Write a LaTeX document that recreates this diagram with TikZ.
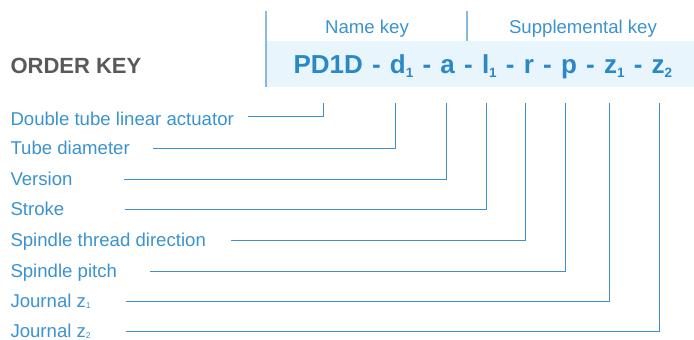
\documentclass[tikz,border=0pt]{standalone}
\usepackage{fontspec}
\setmainfont{Liberation Sans}
\usepackage{tikz}
\definecolor{keyblue}{HTML}{2B88C8}
\definecolor{labblue}{HTML}{3A93CF}
\definecolor{lineblue}{HTML}{3F90C9}
\definecolor{bandblue}{HTML}{E9F5FC}
\definecolor{rulblue}{HTML}{86BBE0}
\definecolor{keygray}{HTML}{58595B}
\tikzstyle{lab}=[anchor=base west,inner sep=0pt,text=labblue,font=\fontsize{18.6}{20}\selectfont]
\tikzstyle{head}=[anchor=base,inner sep=0pt,text=labblue,font=\fontsize{18.6}{20}\selectfont]
\tikzstyle{conn}=[lineblue,line width=1pt]
\newcommand{\csub}[1]{\raisebox{-4pt}{\fontsize{13.5}{13.5}\selectfont #1}}
\newcommand{\lsub}[1]{\raisebox{-1.5pt}{\fontsize{8.5}{8.5}\selectfont #1}}
\newcommand{\csep}{\hspace{2pt} - \hspace{2pt}}

\begin{document}
\begin{tikzpicture}[x=1pt,y=-1pt,conn]
\useasboundingbox (0,0) rectangle (694,340);
\fill[bandblue] (266,41) rectangle (694,87);
\draw[rulblue,line width=1.3pt] (266,11) -- (266,87);
\draw[rulblue,line width=1.1pt] (467,11) -- (467,41);
\node[head] (nk) at (367,33) {Name key};
\node[head] (sk) at (583,33) {Supplemental key};
\node[anchor=base west,inner sep=0pt,text=keygray,font=\fontsize{22}{24}\selectfont\bfseries] (ok) at (10,73.5) {ORDER KEY};
\node[anchor=base west,inner sep=0pt,text=keyblue,font=\fontsize{26}{28}\selectfont\bfseries] (code) at (293,73) {PD1D\csep d\csub{1}\csep a\csep l\csub{1}\csep r\csep p\csep z\csub{1}\csep z\csub{2}};
% tick ends under the code
\coordinate (tPD) at (323,103);\coordinate (tD) at (395,103);\coordinate (tA) at (446,103);\coordinate (tL) at (486,103);
\coordinate (tR) at (525,103);\coordinate (tP) at (565,103);\coordinate (tZa) at (609,103);\coordinate (tZb) at (659,103);
\node[lab] (act) at (10,125) {Double tube linear actuator};
\node[lab] (dia) at (10,154.5) {Tube diameter};
\node[lab] (ver) at (10,185) {Version};
\node[lab] (str) at (10,215) {Stroke};
\node[lab] (dir) at (10,246.5) {Spindle thread direction};
\node[lab] (pit) at (10,277) {Spindle pitch};
\node[lab] (jza) at (10,307) {Journal z\lsub{1}};
\node[lab] (jzb) at (10,337) {Journal z\lsub{2}};
\draw (act.base east) ++(14,-9) -| (tPD);\draw (dia.base east) ++(23,-6) -| (tD);
\draw (ver.base east) ++(51,-6) -| (tA);\draw (str.base east) ++(60,-6) -| (tL);
\draw (dir.base east) ++(24.6,-6) -| (tR);\draw (pit.base east) ++(32.5,-6) -| (tP);
\draw (jza.base east) ++(34.5,-6) -| (tZa);\draw (jzb.base east) ++(34.5,-6) -| (tZb);
\end{tikzpicture}
\end{document}
